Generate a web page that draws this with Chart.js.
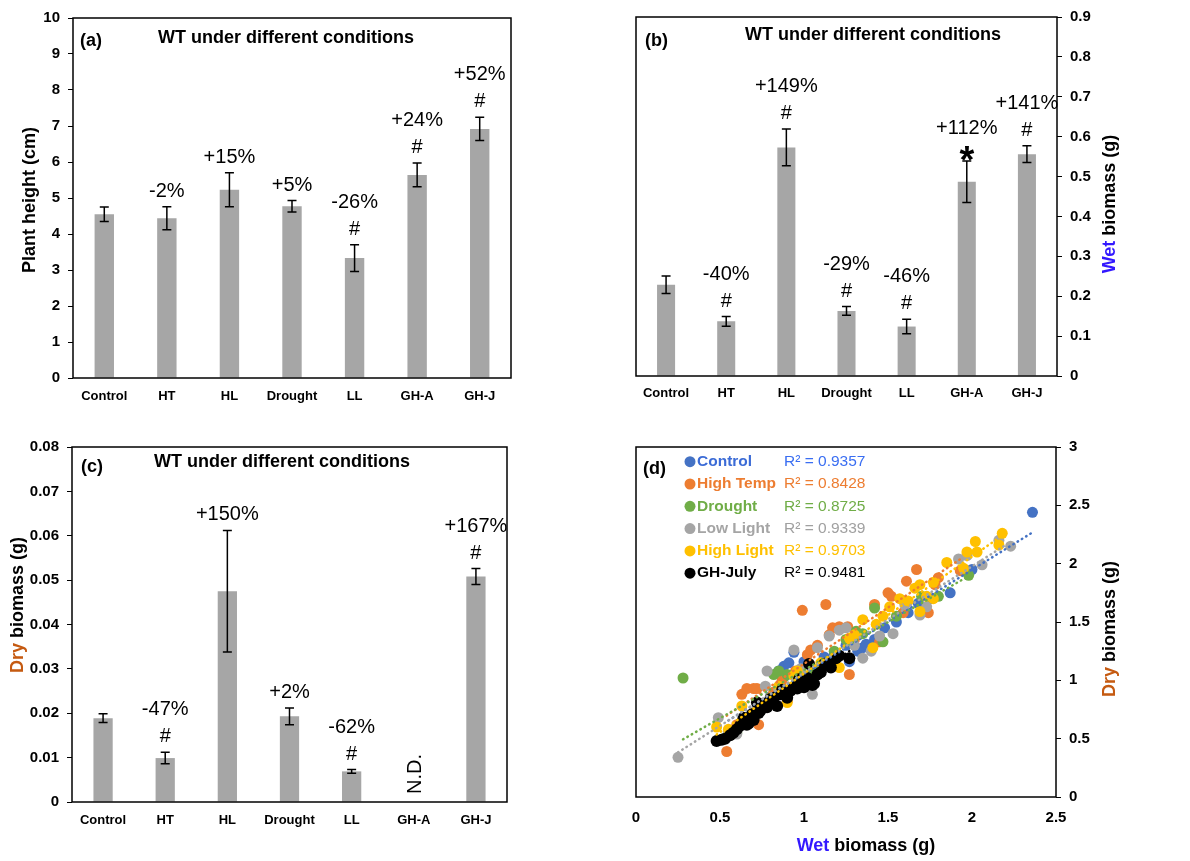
<!DOCTYPE html>
<html lang="en">
<head>
<meta charset="utf-8">
<title>WT under different conditions</title>
<script src="https://cdn.jsdelivr.net/npm/chart.js@4.4.1/dist/chart.umd.min.js"></script>
<style>
  body { margin: 0; background: #fff; }
  #quadro { position: relative; width: 1190px; height: 861px; overflow: hidden; background: #fff; }
  #quadro canvas { position: absolute; }
</style>
</head>
<body>
<div id="quadro">
  <canvas id="graficoAltura" width="595" height="430" style="left:0px;top:0px"></canvas>
  <canvas id="graficoUmida" width="595" height="430" style="left:595px;top:0px"></canvas>
  <canvas id="graficoSeca" width="595" height="431" style="left:0px;top:430px"></canvas>
  <canvas id="graficoDispersao" width="595" height="431" style="left:595px;top:430px"></canvas>
</div>
<script>
// Dados dos gráficos de barras
const categorias = ['Control', 'HT', 'HL', 'Drought', 'LL', 'GH-A', 'GH-J'];

const alturaMedia = [4.55, 4.44, 5.23, 4.77, 3.33, 5.64, 6.92];
const alturaErro = [0.2, 0.32, 0.47, 0.16, 0.37, 0.33, 0.32];
const alturaPct = ['', '-2%', '+15%', '+5%', '-26%', '+24%', '+52%'];
const alturaSig = ['', '', '', '', '#', '#', '#'];

const umidaMedia = [0.229, 0.137, 0.573, 0.163, 0.124, 0.487, 0.556];
const umidaErro = [0.022, 0.012, 0.046, 0.011, 0.018, 0.052, 0.021];
const umidaPct = ['', '-40%', '+149%', '-29%', '-46%', '+112%', '+141%'];
const umidaSig = ['', '#', '#', '#', '#', '*', '#'];

const secaMedia = [0.0189, 0.0099, 0.0475, 0.0193, 0.0069, null, 0.0508];
const secaErro = [0.001, 0.0013, 0.0137, 0.0019, 0.0004, null, 0.0018];
const secaPct = ['', '-47%', '+150%', '+2%', '-62%', '', '+167%'];
const secaSig = ['', '#', '', '', '#', '', '#'];
const secaND = ['', '', '', '', '', 'N.D.', ''];

// Dados da dispersão (peso úmido x peso seco)
const nomesSeries = ['Control', 'High Temp', 'Drought', 'Low Light', 'High Light', 'GH-July'];
const r2Series = ['R² = 0.9357', 'R² = 0.8428', 'R² = 0.8725', 'R² = 0.9339', 'R² = 0.9703', 'R² = 0.9481'];

const pontosControl = [[0.55,0.55],[0.6,0.6],[0.65,0.66],[0.72,0.75],[0.8,0.86],[0.85,1.08],[0.88,1.12],[0.91,1.15],
  [0.94,1.24],[0.97,1.02],[1.0,1.16],[1.05,1.1],[1.12,1.2],[1.18,1.22],[1.25,1.3],[1.27,1.16],[1.32,1.25],[1.35,1.28],
  [1.37,1.31],[1.42,1.35],[1.48,1.45],[1.55,1.5],[1.62,1.58],[1.68,1.66],[1.75,1.7],[1.87,1.75],[2.0,1.95],[2.36,2.44]];
const pontosHighTemp = [[0.54,0.39],[0.6,0.62],[0.63,0.88],[0.66,0.93],[0.7,0.93],[0.72,0.93],[0.73,0.62],[0.78,0.8],
  [0.82,0.9],[0.87,1.0],[0.9,0.82],[0.95,1.08],[0.99,1.6],[1.02,1.22],[1.04,1.26],[1.08,1.3],[1.13,1.65],[1.15,1.39],
  [1.17,1.45],[1.21,1.46],[1.26,1.46],[1.27,1.05],[1.3,1.35],[1.42,1.65],[1.45,1.33],[1.5,1.75],[1.52,1.72],[1.59,1.58],
  [1.61,1.85],[1.67,1.95],[1.74,1.58],[1.78,1.82],[1.8,1.88],[1.93,1.94]];
const pontosDrought = [[0.28,1.02],[0.52,0.5],[0.6,0.55],[0.68,0.66],[0.72,0.73],[0.78,0.8],[0.82,1.05],[0.85,1.08],
  [0.9,1.05],[0.95,0.95],[1.0,1.0],[1.05,1.05],[1.1,1.08],[1.18,1.25],[1.25,1.35],[1.31,1.42],[1.35,1.4],[1.42,1.62],
  [1.47,1.33],[1.55,1.55],[1.61,1.67],[1.7,1.72],[1.8,1.72],[1.98,1.9]];
const pontosLowLight = [[0.25,0.34],[0.49,0.68],[0.55,0.56],[0.6,0.54],[0.65,0.62],[0.72,0.75],[0.77,0.95],[0.78,1.08],
  [0.85,0.92],[0.94,1.26],[0.98,1.1],[1.05,0.88],[1.08,1.28],[1.15,1.38],[1.21,1.43],[1.25,1.45],[1.3,1.3],[1.35,1.19],
  [1.4,1.25],[1.45,1.38],[1.53,1.4],[1.6,1.65],[1.69,1.56],[1.73,1.63],[1.92,2.04],[1.97,2.07],[2.06,1.99],[2.16,2.2],[2.23,2.15]];
const pontosHighLight = [[0.48,0.6],[0.55,0.58],[0.63,0.78],[0.7,0.72],[0.8,0.85],[0.85,0.95],[0.9,0.81],[0.94,1.04],
  [0.96,1.08],[1.0,1.02],[1.1,1.15],[1.21,1.11],[1.27,1.36],[1.3,1.39],[1.35,1.52],[1.41,1.28],[1.43,1.48],[1.47,1.55],
  [1.51,1.63],[1.57,1.7],[1.62,1.68],[1.66,1.79],[1.69,1.82],[1.69,1.59],[1.73,1.72],[1.77,1.84],[1.77,1.7],[1.85,2.01],
  [1.95,1.96],[1.97,2.1],[2.02,2.19],[2.03,2.1],[2.16,2.16],[2.18,2.26]];
const pontosGHJuly = [[0.48,0.48],[0.51,0.49],[0.53,0.5],[0.56,0.53],[0.58,0.55],[0.6,0.58],[0.62,0.61],[0.63,0.64],
  [0.64,0.68],[0.66,0.62],[0.67,0.63],[0.69,0.71],[0.7,0.66],[0.72,0.81],[0.73,0.72],[0.74,0.74],[0.76,0.8],[0.78,0.77],
  [0.8,0.84],[0.82,0.85],[0.84,0.78],[0.86,0.88],[0.87,0.92],[0.9,0.85],[0.92,0.91],[0.94,0.94],[0.96,0.93],[0.97,1.01],
  [0.98,0.97],[1.0,0.94],[1.02,1.02],[1.03,1.14],[1.05,0.96],[1.06,0.97],[1.08,1.05],[1.1,1.07],[1.12,1.14],[1.15,1.16],
  [1.16,1.11],[1.19,1.19],[1.21,1.21],[1.27,1.19]];

// Estilos
const fonte = "'Liberation Sans', Arial, sans-serif";
const corBarra = '#a6a6a6';
const coresSeries = ['#4472C4', '#ED7D31', '#70AD47', '#A5A5A5', '#FFC000', '#000000'];
const coresNomes = ['#3b6bd6', '#ED7D31', '#70AD47', '#A5A5A5', '#FFC000', '#000000'];
const coresR2 = ['#3a6ef2', '#ED7D31', '#70AD47', '#A0A0A0', '#FFC000', '#000000'];
const corUmida = '#3318ff';
const corSeca = '#c55a11';

Chart.defaults.font.family = fonte;
Chart.defaults.color = '#000';

// Moldura preta em volta da área do gráfico
const caixa = {
  id: 'caixa',
  afterDraw(chart) {
    const { ctx, chartArea: a } = chart;
    ctx.save();
    ctx.strokeStyle = '#000';
    ctx.lineWidth = 1.5;
    ctx.strokeRect(a.left, a.top, a.right - a.left, a.bottom - a.top);
    ctx.restore();
  }
};

// Barras de erro e anotações (%, #, *)
function pluginErros(erros, pct, sig, nd) {
  return {
    id: 'erros',
    afterDatasetsDraw(chart) {
      const { ctx } = chart;
      const x = chart.scales.x, y = chart.scales.y;
      const medias = chart.data.datasets[0].data;
      ctx.save();
      ctx.strokeStyle = '#000';
      ctx.fillStyle = '#000';
      ctx.lineWidth = 1.5;
      ctx.textAlign = 'center';
      ctx.textBaseline = 'alphabetic';
      medias.forEach((m, i) => {
        const px = x.getPixelForValue(i);
        if (nd && nd[i]) {
          ctx.save();
          ctx.translate(px + 7, y.bottom - 8);
          ctx.rotate(-Math.PI / 2);
          ctx.textAlign = 'left';
          ctx.font = '20px ' + fonte;
          ctx.fillText(nd[i], 0, 0);
          ctx.restore();
        }
        if (m == null) return;
        const topo = y.getPixelForValue(m + erros[i]);
        const base = y.getPixelForValue(m - erros[i]);
        ctx.beginPath();
        ctx.moveTo(px, topo); ctx.lineTo(px, base);
        ctx.moveTo(px - 4.5, topo); ctx.lineTo(px + 4.5, topo);
        ctx.moveTo(px - 4.5, base); ctx.lineTo(px + 4.5, base);
        ctx.stroke();
        let yTexto = topo - 10;
        if (sig[i] === '*') {
          ctx.font = 'bold 38px ' + fonte;
          ctx.fillText('*', px, yTexto + 22);
          yTexto -= 17;
        } else if (sig[i]) {
          ctx.font = '20px ' + fonte;
          ctx.fillText(sig[i], px, yTexto);
          yTexto -= 27;
        }
        if (pct[i]) {
          ctx.font = '20px ' + fonte;
          ctx.fillText(pct[i], px, yTexto);
        }
      });
      ctx.restore();
    }
  };
}

// Textos livres: rótulo do painel, título, títulos dos eixos (com partes coloridas)
function pluginTextos(itens) {
  return {
    id: 'textos',
    afterDraw(chart) {
      const ctx = chart.ctx;
      itens.forEach(item => {
        ctx.save();
        ctx.translate(item.x, item.y);
        if (item.rot) ctx.rotate(item.rot);
        ctx.font = item.fonte;
        ctx.textAlign = 'left';
        ctx.textBaseline = item.base || 'alphabetic';
        const total = item.partes.reduce((s, p) => s + ctx.measureText(p[0]).width, 0);
        let px = item.esquerda ? 0 : -total / 2;
        item.partes.forEach(p => {
          ctx.fillStyle = p[1];
          ctx.fillText(p[0], px, 0);
          px += ctx.measureText(p[0]).width;
        });
        ctx.restore();
      });
    }
  };
}

const formatoNumero = v => String(+Number(v).toFixed(3));

function eixoY(cfg) {
  return {
    position: cfg.posicao,
    min: 0,
    max: cfg.max,
    ticks: {
      stepSize: cfg.passo,
      color: '#000',
      padding: 8,
      font: { size: 15, weight: 'bold' },
      callback: formatoNumero
    },
    grid: { drawOnChartArea: false, drawTicks: true, tickLength: 5, color: '#000', lineWidth: 1 },
    border: { display: false },
    afterFit: s => { s.width = cfg.largura; }
  };
}

function graficoBarras(id, cfg) {
  const el = document.getElementById(id);
  if (!el) return;
  new Chart(el, {
    type: 'bar',
    data: {
      labels: categorias,
      datasets: [{
        data: cfg.medias,
        backgroundColor: corBarra,
        barPercentage: cfg.barra,
        categoryPercentage: 1
      }]
    },
    options: {
      responsive: false,
      animation: false,
      layout: { padding: cfg.padding },
      plugins: { legend: { display: false }, tooltip: { enabled: false } },
      scales: {
        x: {
          grid: { display: false, drawTicks: false },
          border: { display: false },
          ticks: { color: '#000', padding: cfg.padX, font: { size: 13, weight: 'bold' } },
          afterFit: s => { s.height = cfg.alturaX; }
        },
        y: eixoY(cfg.y)
      }
    },
    plugins: [caixa, pluginErros(cfg.erros, cfg.pct, cfg.sig, cfg.nd), pluginTextos(cfg.textos)]
  });
}

// Reta de tendência (mínimos quadrados) de cada série
function tendencia(pontos) {
  const n = pontos.length;
  let sx = 0, sy = 0, sxx = 0, sxy = 0;
  pontos.forEach(p => { sx += p[0]; sy += p[1]; sxx += p[0] * p[0]; sxy += p[0] * p[1]; });
  const b = (n * sxy - sx * sy) / (n * sxx - sx * sx);
  const a = (sy - b * sx) / n;
  const xs = pontos.map(p => p[0]);
  const x0 = Math.min(...xs), x1 = Math.max(...xs);
  return [{ x: x0, y: a + b * x0 }, { x: x1, y: a + b * x1 }];
}

document.addEventListener("DOMContentLoaded", function () {
  const titulo = 'WT under different conditions';

  // (a) Altura das plantas
  graficoBarras('graficoAltura', {
    medias: alturaMedia, erros: alturaErro, pct: alturaPct, sig: alturaSig,
    barra: 0.31, padX: 11, alturaX: 52,
    padding: { left: 0, top: 18, right: 84, bottom: 0 },
    y: { posicao: 'left', max: 10, passo: 1, largura: 73 },
    textos: [
      { x: 80, y: 46, fonte: 'bold 18px ' + fonte, esquerda: true, partes: [['(a)', '#000']] },
      { x: 286, y: 43, fonte: 'bold 18px ' + fonte, partes: [[titulo, '#000']] },
      { x: 35, y: 200, rot: -Math.PI / 2, fonte: 'bold 18px ' + fonte, partes: [['Plant height (cm)', '#000']] }
    ]
  });

  // (b) Biomassa úmida
  graficoBarras('graficoUmida', {
    medias: umidaMedia, erros: umidaErro, pct: umidaPct, sig: umidaSig,
    barra: 0.3, padX: 10, alturaX: 54,
    padding: { left: 41, top: 16, right: 0, bottom: 0 },
    y: { posicao: 'right', max: 0.9, passo: 0.1, largura: 133 },
    textos: [
      { x: 50, y: 46, fonte: 'bold 18px ' + fonte, esquerda: true, partes: [['(b)', '#000']] },
      { x: 278, y: 40, fonte: 'bold 18px ' + fonte, partes: [[titulo, '#000']] },
      { x: 520, y: 204, rot: -Math.PI / 2, fonte: 'bold 18px ' + fonte, partes: [['Wet', corUmida], [' biomass (g)', '#000']] }
    ]
  });

  // (c) Biomassa seca
  graficoBarras('graficoSeca', {
    medias: secaMedia, erros: secaErro, pct: secaPct, sig: secaSig, nd: secaND,
    barra: 0.31, padX: 11, alturaX: 59,
    padding: { left: 0, top: 14, right: 88, bottom: 0 },
    y: { posicao: 'left', max: 0.08, passo: 0.01, largura: 72 },
    textos: [
      { x: 81, y: 42, fonte: 'bold 18px ' + fonte, esquerda: true, partes: [['(c)', '#000']] },
      { x: 282, y: 37, fonte: 'bold 18px ' + fonte, partes: [[titulo, '#000']] },
      { x: 23, y: 175, rot: -Math.PI / 2, fonte: 'bold 18px ' + fonte, partes: [['Dry', corSeca], [' biomass (g)', '#000']] }
    ]
  });

  // (d) Dispersão úmido x seco
  const elDisp = document.getElementById('graficoDispersao');
  if (elDisp) {
    const series = [pontosControl, pontosHighTemp, pontosDrought, pontosLowLight, pontosHighLight, pontosGHJuly];
    const pontos = series.map((pts, i) => ({
      label: nomesSeries[i],
      data: pts.map(p => ({ x: p[0], y: p[1] })),
      backgroundColor: coresSeries[i],
      borderWidth: 0,
      pointRadius: i === 5 ? 6 : 5.5,
      order: 20 - i
    }));
    const retas = series.map((pts, i) => ({
      label: r2Series[i],
      data: tendencia(pts),
      showLine: true,
      borderColor: coresSeries[i],
      borderWidth: 2.5,
      borderDash: [0.5, 4.5],
      borderCapStyle: 'round',
      pointRadius: 0,
      fill: false,
      order: 10 - i
    }));

    const legenda = {
      id: 'legenda',
      afterDraw(chart) {
        const ctx = chart.ctx;
        ctx.save();
        ctx.textBaseline = 'middle';
        ctx.textAlign = 'left';
        nomesSeries.forEach((nome, i) => {
          const y = 31.7 + i * 22.3;
          ctx.fillStyle = coresSeries[i];
          ctx.beginPath();
          ctx.arc(95, y, 5.5, 0, Math.PI * 2);
          ctx.fill();
          ctx.font = 'bold 15.5px ' + fonte;
          ctx.fillStyle = coresNomes[i];
          ctx.fillText(nome, 102, y);
          ctx.font = '15.5px ' + fonte;
          ctx.fillStyle = coresR2[i];
          ctx.fillText(r2Series[i], 189, y);
        });
        ctx.restore();
      }
    };

    new Chart(elDisp, {
      type: 'scatter',
      data: { datasets: pontos.concat(retas) },
      options: {
        responsive: false,
        animation: false,
        layout: { padding: { left: 41, top: 14, right: 0, bottom: 0 } },
        plugins: { legend: { display: false }, tooltip: { enabled: false } },
        scales: {
          x: {
            type: 'linear', min: 0, max: 2.5,
            ticks: { stepSize: 0.5, color: '#000', padding: 12, font: { size: 15, weight: 'bold' }, callback: formatoNumero },
            grid: { display: false, drawTicks: false },
            border: { display: false },
            afterFit: s => { s.height = 64; }
          },
          y: eixoY({ posicao: 'right', max: 3, passo: 0.5, largura: 134 })
        }
      },
      plugins: [caixa, legenda, pluginTextos([
        { x: 48, y: 44, fonte: 'bold 18px ' + fonte, esquerda: true, partes: [['(d)', '#000']] },
        { x: 271, y: 421, fonte: 'bold 18px ' + fonte, partes: [['Wet', corUmida], [' biomass (g)', '#000']] },
        { x: 520, y: 199, rot: -Math.PI / 2, fonte: 'bold 18px ' + fonte, partes: [['Dry', corSeca], [' biomass (g)', '#000']] }
      ])]
    });
  }
});
</script>
</body>
</html>
